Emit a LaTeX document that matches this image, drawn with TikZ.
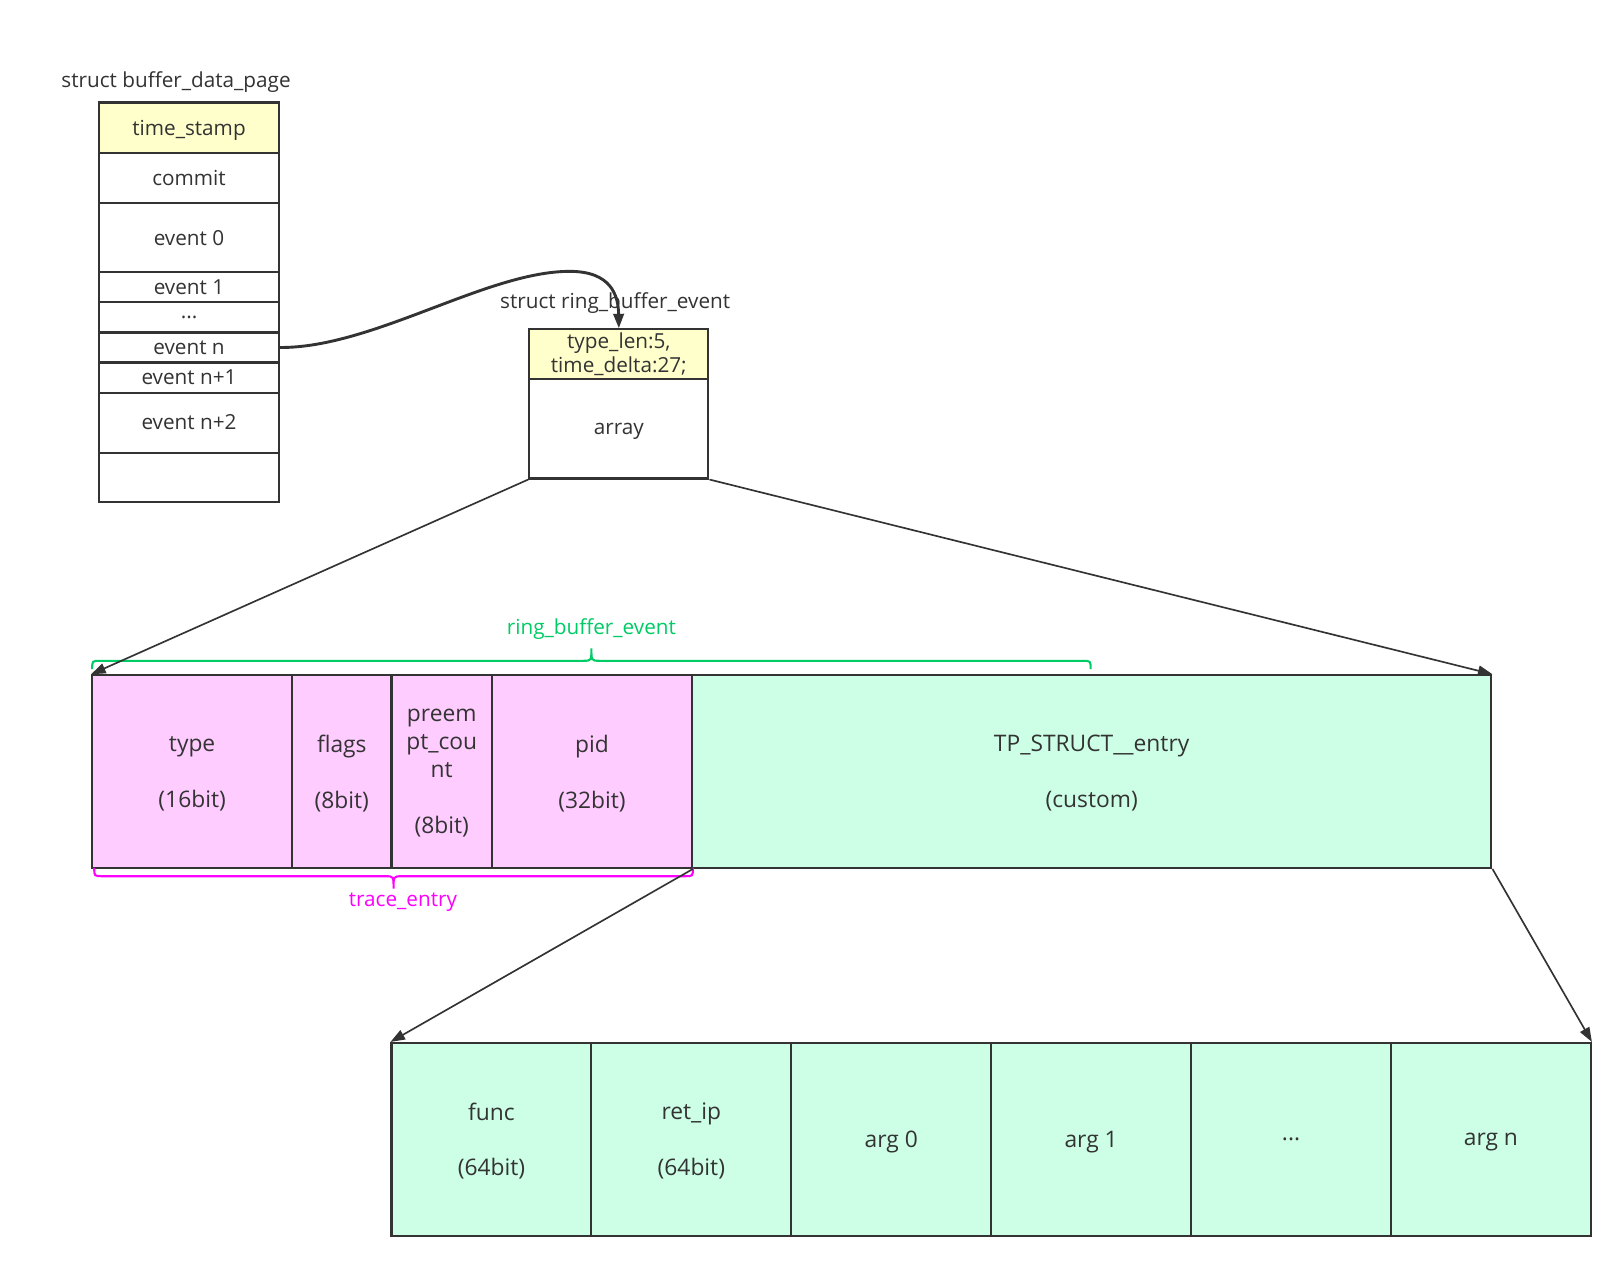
\documentclass[tikz,border=0pt]{standalone}
\usepackage{fontspec}
\setmainfont{Open Sans}
\usetikzlibrary{arrows.meta}
\definecolor{ln}{HTML}{333333}
\definecolor{yel}{HTML}{FFFFCC}
\definecolor{pnk}{HTML}{FFCCFF}
\definecolor{mnt}{HTML}{CCFFE6}
\definecolor{grn}{HTML}{00CC66}
\definecolor{mag}{HTML}{FF00FF}
\newcommand\tightlines{\fontsize{10}{11.5}\selectfont\lineskiplimit -20pt\relax}
\tikzset{
  cell/.style={draw=ln, line width=1pt, inner sep=0pt, text=ln, align=center},
  lcell/.style={cell, minimum width=87pt, font=\fontsize{10}{12}\selectfont},
  rcell/.style={cell, minimum width=86.5pt, font=\tightlines},
  mcell/.style={cell, text depth=0pt, minimum height=93pt, font=\fontsize{11}{13.5}\selectfont},
  title/.style={text=ln, inner sep=0pt, font=\fontsize{10}{12}\selectfont},
  conn/.style={draw=ln, line width=0.8pt, -{Triangle[length=7pt,width=5pt]}},
  brace/.style={line width=1pt}
}
\begin{document}
\begin{tikzpicture}[x=0.5pt,y=-0.5pt]
\useasboundingbox[fill=white] (0,0) rectangle (1568,1225);

% struct buffer_data_page
\node[title] (t1) at (170,79) {struct buffer\_data\_page};
\node[lcell, fill=yel, minimum height=24.5pt, text depth=0pt] (ts) at (182.5,123.5) {time\_stamp};
\node[lcell, fill=white, minimum height=24pt] (cm) at (182.5,172) {commit};
\node[lcell, fill=white, minimum height=33.5pt] (e0) at (182.5,229.5) {event 0};
\node[lcell, fill=white, minimum height=14.5pt] (e1) at (182.5,277.5) {event 1};
\node[lcell, fill=white, minimum height=14.5pt] (ed) at (182.5,306.5) {...};
\node[lcell, fill=white, minimum height=14.5pt] (en) at (182.5,335.5) {event n};
\node[lcell, fill=white, minimum height=14.5pt] (en1) at (182.5,364.5) {event n+1};
\node[lcell, fill=white, minimum height=29pt] (en2) at (182.5,408) {event n+2};
\node[lcell, fill=white, minimum height=24pt] (el) at (182.5,461) {};

% struct ring_buffer_event
\node[title] (t2) at (594,293) {struct ring\_buffer\_event};
\node[rcell, fill=yel, minimum height=24pt] (rt) at (597.5,342) {type\_len:5,\\time\_delta:27;};
\node[rcell, fill=white, minimum height=48pt, text depth=0pt, font=\fontsize{10}{12}\selectfont] (ra) at (597.5,414) {array};

% main row
\node[mcell, fill=pnk, minimum width=96.5pt] (ty) at (185.5,745) {type\\[13.5pt](16bit)};
\node[mcell, fill=pnk, minimum width=48pt] (fl) at (330,745) {flags\\[13.5pt](8bit)};
\node[mcell, fill=pnk, minimum width=48.5pt] (pc) at (426.5,745) {preem\\pt\_cou\\nt\\[13.5pt](8bit)};
\node[mcell, fill=pnk, minimum width=96.5pt] (pi) at (571.5,745) {pid\\[13.5pt](32bit)};
\node[mcell, fill=mnt, minimum width=386pt] (tp) at (1054,745) {TP\_STRUCT\_\_entry\\[13.5pt](custom)};

% bottom row
\node[mcell, fill=mnt, minimum width=96.5pt] (fu) at (474.5,1100) {func\\[13.5pt](64bit)};
\node[mcell, fill=mnt, minimum width=96.5pt] (ri) at (667.5,1100) {ret\_ip\\[13.5pt](64bit)};
\node[mcell, fill=mnt, minimum width=96.5pt] (a0) at (860.5,1100) {arg 0};
\node[mcell, fill=mnt, minimum width=96.5pt] (a1) at (1053.5,1100) {arg 1};
\node[mcell, fill=mnt, minimum width=96.5pt] (ad) at (1246.5,1100) {...};
\node[mcell, fill=mnt, minimum width=96.5pt] (an) at (1439.5,1100) {arg n};

% braces
\draw[brace, draw=grn] (89,646) .. controls (89,638) .. (97,638) -- (563,638)
  .. controls (571,638) .. (571,626) .. controls (571,638) .. (579,638) -- (1045,638)
  .. controls (1053,638) .. (1053,646);
\node[title, text=grn] (lb1) at (571,607) {ring\_buffer\_event};
\draw[brace, draw=mag] (91,838) .. controls (91,846) .. (99,846) -- (372,846)
  .. controls (380,846) .. (380,858) .. controls (380,846) .. (388,846) -- (661,846)
  .. controls (669,846) .. (669,838);
\node[title, text=mag] (lb2) at (389,871) {trace\_entry};

% connectors
\draw[conn] (ra.south west) -- (ty.north west);
\draw[conn] (ra.south east) -- (tp.north east);
\draw[conn] (pi.south east) -- (fu.north west);
\draw[conn] (tp.south east) -- (an.north east);
\draw[conn, line width=1.4pt] (en.east) .. controls (360,336) and (470,262) .. (550,262)
  .. controls (590,262) and (597,285) .. (rt.north);
\end{tikzpicture}
\end{document}
